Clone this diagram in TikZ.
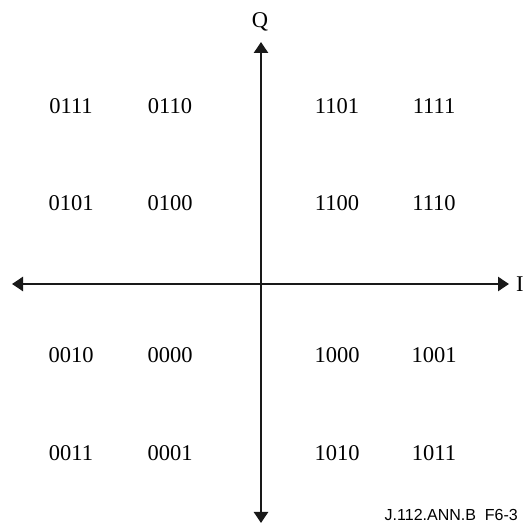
\documentclass[tikz,border=0pt]{standalone}
\usepackage{fontspec}
\setmainfont{Liberation Serif}
\newfontfamily\labelsans{Liberation Sans}
\usetikzlibrary{arrows.meta}
\begin{document}
\begin{tikzpicture}[x=1pt,y=1pt,
  axisline/.style={line width=2.5pt,draw=black!90,-{Triangle[length=11pt,width=14pt]}},
  sym/.style={font=\fontsize{22.5}{26}\selectfont,inner sep=0pt},
  axlabel/.style={font=\fontsize{22.5}{26}\selectfont,inner sep=0pt},
  tag/.style={font=\labelsans\fontsize{16}{19}\selectfont,inner sep=0pt}]
\useasboundingbox (0,0) rectangle (523,524);
\coordinate (O) at (261,240);
\coordinate (top) at (261,482);
\coordinate (bot) at (261,1);
\coordinate (lft) at (12,240);
\coordinate (rgt) at (509,240);
\draw[axisline] (O) -- (top);
\draw[axisline] (O) -- (bot);
\draw[axisline] (O) -- (lft);
\draw[axisline] (O) -- (rgt);
\node[axlabel] (Q) at (260,502) {Q};
\node[axlabel,anchor=west] (I) at (516,240) {I};
% row 1
\node[sym] (s0111) at (71,418) {0111};
\node[sym] (s0110) at (170,418) {0110};
\node[sym] (s1101) at (337,418) {1101};
\node[sym] (s1111) at (434,418) {1111};
% row 2
\node[sym] (s0101) at (71,321) {0101};
\node[sym] (s0100) at (170,321) {0100};
\node[sym] (s1100) at (337,321) {1100};
\node[sym] (s1110) at (434,321) {1110};
% row 3
\node[sym] (s0010) at (71,169) {0010};
\node[sym] (s0000) at (170,169) {0000};
\node[sym] (s1000) at (337,169) {1000};
\node[sym] (s1001) at (434,169) {1001};
% row 4
\node[sym] (s0011) at (71,71) {0011};
\node[sym] (s0001) at (170,71) {0001};
\node[sym] (s1010) at (337,71) {1010};
\node[sym] (s1011) at (434,71) {1011};
\node[tag,anchor=base east] (tagid) at (518,3.5) {J.112.ANN.B\ \ F6-3};
\end{tikzpicture}
\end{document}
